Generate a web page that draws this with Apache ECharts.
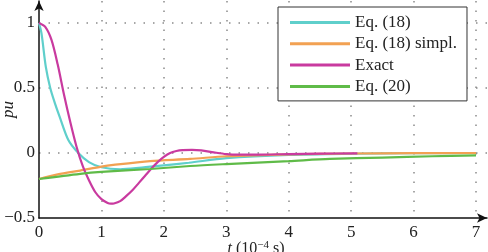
<!DOCTYPE html>
<html>
<head>
<meta charset="utf-8">
<script src="https://cdn.jsdelivr.net/npm/echarts@6/dist/echarts.min.js"></script>
<style>
  html, body { margin: 0; padding: 0; background: #fff; }
  #chart { width: 488px; height: 252px; }
</style>
</head>
<body>
<div id="chart"></div>
<script>
// t in units of 1e-4 s, values in pu
var eq18T = [0, 0.04, 0.11, 0.18, 0.25, 0.33, 0.47, 0.63, 0.8, 1.0, 1.3, 1.6, 2.0, 2.4, 3.0, 4.0, 5.0, 6.0, 7.0];
var eq18V = [1.0, 0.92, 0.66, 0.5, 0.39, 0.28, 0.1, 0.0, -0.07, -0.11, -0.125, -0.115, -0.095, -0.075, -0.04, -0.015, -0.006, -0.002, 0];

var simplT = [0, 0.3, 0.66, 1.0, 1.19, 1.78, 2.42, 3.0, 4.0, 5.0, 6.0, 7.0];
var simplV = [-0.2, -0.165, -0.135, -0.105, -0.092, -0.062, -0.046, -0.025, -0.01, -0.004, -0.001, 0];

var exactT = [0, 0.1, 0.2, 0.3, 0.4, 0.5, 0.6, 0.7, 0.8, 0.9, 1.0, 1.1, 1.15, 1.2, 1.3, 1.4, 1.5, 1.6, 1.7, 1.8, 1.9, 2.0, 2.1, 2.2, 2.3, 2.45, 2.6, 2.8, 3.0, 3.2, 3.5, 4.0, 4.5, 5.1];
var exactV = [1.0, 0.97, 0.87, 0.68, 0.45, 0.24, 0.05, -0.1, -0.21, -0.3, -0.355, -0.385, -0.39, -0.388, -0.37, -0.33, -0.285, -0.23, -0.175, -0.12, -0.07, -0.03, 0.0, 0.015, 0.022, 0.024, 0.02, 0.005, -0.008, -0.012, -0.012, -0.008, -0.005, -0.003];

var eq20T = [0, 0.66, 1.0, 1.78, 2.42, 3.0, 4.0, 4.66, 5.5, 6.3, 7.0];
var eq20V = [-0.2, -0.16, -0.145, -0.123, -0.1, -0.085, -0.062, -0.046, -0.035, -0.025, -0.018];

var names = ['Eq. (18)', 'Eq. (18) simpl.', 'Exact', 'Eq. (20)'];
var colors = ['#5fcfcb', '#f2a152', '#c93a9f', '#5fbb48'];

function pairs(t, v) {
  return t.map(function (x, i) { return [x, v[i]]; });
}

var serif = '"Liberation Serif", "DejaVu Serif", serif';
var grid = { color: '#8a8a8a', width: 1.5, type: [1.5, 8] };

var chart = echarts.init(document.getElementById('chart'));
chart.setOption({
  animation: false,
  backgroundColor: '#fff',
  grid: { left: 39, right: 1, top: 1, bottom: 34, outerBoundsMode: 'none', containLabel: false },
  legend: {
    orient: 'vertical',
    left: 278,
    top: 7,
    padding: [7, 10, 6, 12],
    itemGap: 4.3,
    itemWidth: 60,
    itemHeight: 3,
    icon: 'rect',
    borderColor: '#333',
    borderWidth: 1,
    backgroundColor: '#fff',
    data: names,
    textStyle: { fontFamily: serif, fontSize: 17, color: '#222', lineHeight: 16 }
  },
  xAxis: {
    type: 'value',
    min: 0,
    max: 7.176,
    interval: 1,
    name: '{i|t} (10{s|−4} s)',
    nameLocation: 'middle',
    nameGap: 22,
    nameMoveOverlap: false,
    nameTextStyle: {
      fontFamily: serif, fontSize: 16, color: '#222', padding: [0, 14, 0, 0],
      rich: {
        i: { fontFamily: serif, fontSize: 16, fontStyle: 'italic', color: '#222' },
        s: { fontFamily: serif, fontSize: 11, color: '#222', verticalAlign: 'top', padding: [0, 0, 6, 0] }
      }
    },
    axisLine: { onZero: false, lineStyle: { color: '#111', width: 1.5 }, symbol: ['none', 'arrow'], symbolSize: [7, 10] },
    axisTick: { show: false },
    axisLabel: {
      fontFamily: serif, fontSize: 17, color: '#222', margin: 6, showMaxLabel: false,
      formatter: function (v) { return Number.isInteger(v) ? String(v) : ''; }
    },
    splitLine: { show: true, showMinLine: false, showMaxLine: false, lineStyle: grid }
  },
  yAxis: {
    type: 'value',
    min: -0.5,
    max: 1.169,
    interval: 0.5,
    name: 'pu',
    nameLocation: 'middle',
    nameGap: 22,
    nameMoveOverlap: false,
    nameTextStyle: { fontFamily: serif, fontSize: 17, fontStyle: 'italic', color: '#222' },
    axisLine: { onZero: false, lineStyle: { color: '#111', width: 1.5 }, symbol: ['none', 'arrow'], symbolSize: [7, 10] },
    axisTick: { show: false },
    axisLabel: {
      fontFamily: serif, fontSize: 17, color: '#222', margin: 4, showMaxLabel: false,
      formatter: function (v) {
        if (Math.abs(v * 2 - Math.round(v * 2)) > 1e-6) return '';
        return String(v).replace('-', '−');
      }
    },
    splitLine: { show: true, showMinLine: false, showMaxLine: false, lineStyle: grid }
  },
  series: [
    { name: names[0], type: 'line', smooth: 0.3, showSymbol: false, data: pairs(eq18T, eq18V), lineStyle: { width: 2.2, color: colors[0] }, itemStyle: { color: colors[0] } },
    { name: names[1], type: 'line', smooth: 0.3, showSymbol: false, data: pairs(simplT, simplV), lineStyle: { width: 2.2, color: colors[1] }, itemStyle: { color: colors[1] } },
    { name: names[2], type: 'line', smooth: 0.3, showSymbol: false, data: pairs(exactT, exactV), lineStyle: { width: 2.2, color: colors[2] }, itemStyle: { color: colors[2] } },
    { name: names[3], type: 'line', smooth: 0.3, showSymbol: false, data: pairs(eq20T, eq20V), lineStyle: { width: 2.2, color: colors[3] }, itemStyle: { color: colors[3] } }
  ]
});
</script>
</body>
</html>
